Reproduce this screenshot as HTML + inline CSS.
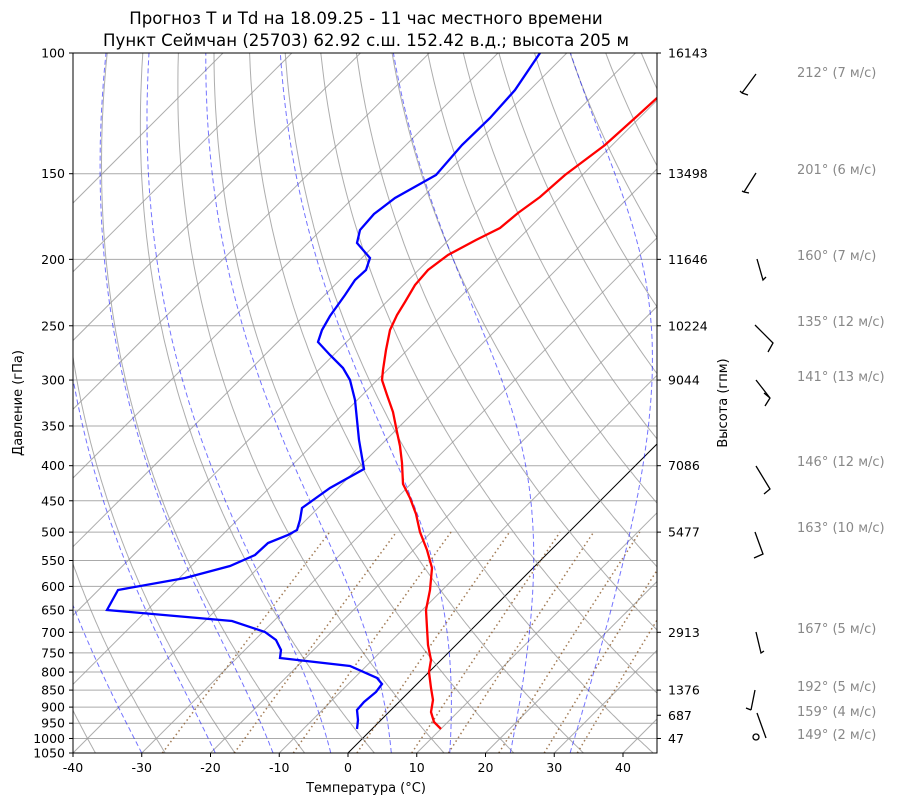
<!DOCTYPE html>
<html><head><meta charset="utf-8"><style>
body{margin:0;background:#fff;}
svg text{font-family:"DejaVu Sans","Liberation Sans",sans-serif;}
</style></head><body>
<svg id="s" width="900" height="806" xmlns="http://www.w3.org/2000/svg">
<defs><clipPath id="c"><rect x="73" y="53" width="584" height="700"/></clipPath></defs>
<g id="g" clip-path="url(#c)"></g>
<polyline fill="none" stroke="#f00" stroke-width="2.3" clip-path="url(#c)" points="441,729 434,722 431,712 433,700 431,688 429,672 431,660 428,645 427,628 426,610 430,590 432,568 427,550 420,532 416,514 410,498 403,484 402,463 400,446 397,432 393,412 387,395 382,380 383,370 386,350 390,330 397,315 405,302 415,285 428,270 448,255 476,240 500,228 518,213 540,197 565,175 605,145 635,118 657,98"/>
<polyline fill="none" stroke="#00f" stroke-width="2.3" clip-path="url(#c)" points="357,729 358,720 357,710 364,702 376,692 382,684 377,678 350,666 280,658 281,650 276,640 265,632 232,621 107,610 118,590 185,578 230,566 255,555 268,543 288,535 297,530 300,520 302,508 330,488 364,469 359,440 357,420 355,400 350,380 343,368 330,355 318,342 322,330 330,316 345,295 355,280 366,270 370,258 357,243 360,230 374,214 395,198 436,175 462,145 490,118 515,90 540,53"/>
<rect x="73" y="53" width="584" height="700" fill="none" stroke="#000" stroke-width="1"/>
<g id="ax" font-size="12.5" fill="#000"></g>
<text x="366" y="24" font-size="16.6" text-anchor="middle">Прогноз T и Td на 18.09.25 - 11 час местного времени</text>
<text x="366" y="46" font-size="16.6" text-anchor="middle">Пункт Сеймчан (25703) 62.92 с.ш. 152.42 в.д.; высота 205 м</text>
<text x="366" y="792" font-size="13" text-anchor="middle">Температура (°C)</text>
<text transform="translate(22,403) rotate(-90)" font-size="13" text-anchor="middle">Давление (гПа)</text>
<text transform="translate(727,403) rotate(-90)" font-size="13" text-anchor="middle">Высота (гпм)</text>
<g stroke="#000" stroke-width="1.3" fill="none">
<path d="M742,93 L756,74 M742,93 L740,91 M742,93 L748,95"/>
<path d="M744,192 L756,173 M744,192 L749,193 M744,192 L742,191"/>
<path d="M757,259 L763,280 L766,277"/>
<path d="M755,325 L773,343 L768,352"/>
<path d="M756,380 L770,398 L765,406 M770,398 L764,393"/>
<path d="M756,466 L770,489 L764,494"/>
<path d="M755,532 L763,554 L754,558"/>
<path d="M756,632 L761,653 L764,651"/>
<path d="M755,690 L751,710 M751,710 L746,708"/>
<path d="M757,713 L766,738"/>
<circle cx="756" cy="737" r="3"/>
</g>
<g font-size="13" fill="#888">
<text x="797" y="77">212° (7 м/с)</text>
<text x="797" y="174">201° (6 м/с)</text>
<text x="797" y="260">160° (7 м/с)</text>
<text x="797" y="326">135° (12 м/с)</text>
<text x="797" y="381">141° (13 м/с)</text>
<text x="797" y="466">146° (12 м/с)</text>
<text x="797" y="532">163° (10 м/с)</text>
<text x="797" y="633">167° (5 м/с)</text>
<text x="797" y="691">192° (5 м/с)</text>
<text x="797" y="716">159° (4 м/с)</text>
<text x="797" y="739">149° (2 м/с)</text>
</g>
</svg>
<script>
var NS="http://www.w3.org/2000/svg";
function Y(p){return 753-700*Math.log10(1050/p)/Math.log10(10.5);}
function X(T,p){return 348+6.875*T+(753-Y(p));}
var g=document.getElementById('g'),ax=document.getElementById('ax');
function el(par,tag,a){var e=document.createElementNS(NS,tag);for(var k in a)e.setAttribute(k,a[k]);par.appendChild(e);return e;}
function line(pts,a){var d=pts.map(function(q,i){return (i?'L':'M')+q[0].toFixed(1)+','+q[1].toFixed(1);}).join('');a.d=d;a.fill='none';el(g,'path',a);}
var plev=[100,150,200,250,300,350,400,450,500,550,600,650,700,750,800,850,900,950,1000,1050];
plev.forEach(function(p){var y=Y(p);el(g,'line',{x1:73,x2:657,y1:y,y2:y,stroke:'#aaa','stroke-width':1});
 el(ax,'line',{x1:69,x2:73,y1:y,y2:y,stroke:'#000'});
 var t=el(ax,'text',{x:65,y:y+4.5,'text-anchor':'end'});t.textContent=p;});
for(var T=-120;T<=40;T+=10){line([[X(T,1050),Y(1050)],[X(T,100),Y(100)]],{stroke:T==0?'#000':'#999','stroke-width':1,'stroke-opacity':T==0?1:0.8});}
var ps=[];for(var p=1050;p>=100;p-=5)ps.push(p);
for(var t0=-40;t0<=200;t0+=10){var th=t0+273.15;line(ps.map(function(p){return [X(th*Math.pow(p/1000,0.2857)-273.15,p),Y(p)];}),{stroke:'#999','stroke-width':1,'stroke-opacity':0.8});}
function es(T){return 6.112*Math.exp(17.67*T/(T+243.5));}
function dTdp(T,p){var Tk=T+273.15,rs=0.622*es(T)/(p-es(T));var Rd=287.04,Cp=1005.7,L=2.501e6;
 return (Rd*Tk+L*rs)/(Cp+L*L*rs*0.622/(Rd*Tk*Tk))/p;}
[-40,-30,-19.3,-10.9,-2.5,6.3,14.8,23.6,32.3].forEach(function(t0){var T=t0,p=1050,pts=[[X(T,p),Y(p)]];
 while(p>100){var h=-5;var k1=dTdp(T,p),k2=dTdp(T+h/2*k1,p+h/2),k3=dTdp(T+h/2*k2,p+h/2),k4=dTdp(T+h*k3,p+h);T+=h/6*(k1+2*k2+2*k3+k4);p+=h;pts.push([X(T,p),Y(p)]);}
 line(pts,{stroke:'#00f','stroke-width':1,'stroke-opacity':0.55,'stroke-dasharray':'5,3'});});
[0.0004,0.001,0.002,0.004,0.007,0.01,0.016,0.024,0.032].forEach(function(w){var pts=[];for(var p=1050;p>=500;p-=10){var e=w*p/(0.622+w),l=Math.log(e/6.112),Td=243.5*l/(17.67-l);pts.push([X(Td,p),Y(p)]);}
 line(pts,{stroke:'#8b5a2b','stroke-width':1.5,'stroke-opacity':0.8,'stroke-dasharray':'1.5,3'});});
for(var T=-40;T<=40;T+=10){var x=348+6.875*T;el(ax,'line',{x1:x,x2:x,y1:753,y2:757,stroke:'#000'});var t=el(ax,'text',{x:x,y:772,'text-anchor':'middle'});t.textContent=T;}
[[100,16143],[150,13498],[200,11646],[250,10224],[300,9044],[400,7086],[500,5477],[700,2913],[850,1376],[925,687],[1000,47]].forEach(function(a){var y=Y(a[0]);el(ax,'line',{x1:657,x2:661,y1:y,y2:y,stroke:'#000'});var t=el(ax,'text',{x:668,y:y+4.5});t.textContent=a[1];});
</script>
</body></html>
